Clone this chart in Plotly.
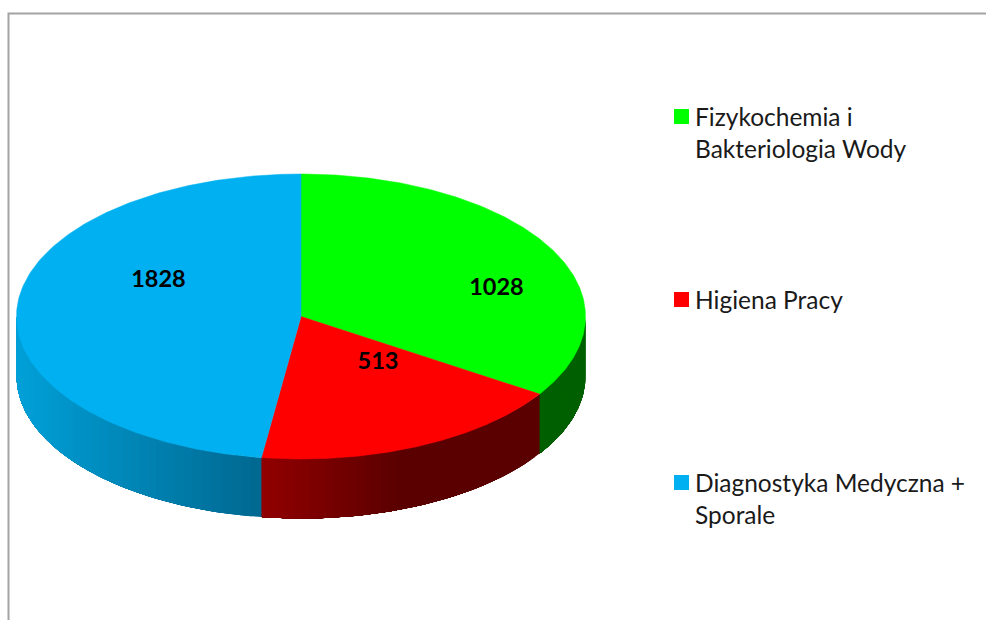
import numpy as np
import plotly.graph_objects as go

categories = ["Fizykochemia i<br>Bakteriologia Wody", "Higiena Pracy", "Diagnostyka Medyczna +<br>Sporale"]
values = [1028, 513, 1828]
# Sweep of each slice as it appears on the tilted disc (degrees, clockwise from the top)
slice_degrees = [123, 65, 172]
colors = ["#00FF00", "#FF0000", "#00B0F0"]

# Side-wall shading: colour at the left and right ends of each slice's visible wall
side_left = [(0, 96, 0), (146, 0, 0), (0, 160, 216)]
side_right = [(0, 96, 0), (90, 0, 0), (0, 104, 144)]

W, H = 986, 620
CX, CY, RX, RY, DEPTH = 301, 316.5, 284.5, 142.5, 59.5
FONT = "Lato"

label_pos = [(496.5, 289), (378, 363), (158.5, 281)]
legend_pos = [(681.5, 116.5), (681.5, 299.5), (681.5, 482.5)]
LINE_GAP = 32


def pt(a):
    r = np.radians(a)
    return CX + RX * np.sin(r), CY - RY * np.cos(r)


fig = go.Figure()
edges = np.concatenate([[0], np.cumsum(slice_degrees)])

# side wall: painted band by band, each band covering the rest of its slice, so no seams show
for i in range(len(values)):
    a0, a1 = max(edges[i], 90), min(edges[i + 1], 270)
    if a1 <= a0:
        continue
    steps = np.linspace(a0, a1, 41)
    xs_all = pt(steps)[0]
    xl, xr = xs_all.min(), xs_all.max()
    for s0, s1 in zip(steps[:-1], steps[1:]):
        arc = np.linspace(s0, a1, 60)
        x, y = pt(arc)
        px = np.concatenate([x, x[::-1], x[:1]])
        py = np.concatenate([y, y[::-1] + DEPTH, y[:1]])
        t = ((pt(s0)[0] + pt(s1)[0]) / 2 - xl) / max(xr - xl, 1)
        if i == 1:
            t = min(t * 2.0, 1)
        c = [round(side_left[i][k] + (side_right[i][k] - side_left[i][k]) * t) for k in range(3)]
        col = f"rgb({c[0]},{c[1]},{c[2]})"
        fig.add_trace(go.Scatter(x=px, y=py, mode="lines", fill="toself", fillcolor=col,
                                 line=dict(width=0), hoverinfo="skip", showlegend=False))

# top face
for i in range(len(values)):
    arc = np.linspace(edges[i], edges[i + 1], 181)
    x, y = pt(arc)
    fig.add_trace(go.Scatter(x=np.concatenate([[CX], x, [CX]]), y=np.concatenate([[CY], y, [CY]]),
                             mode="lines", fill="toself", fillcolor=colors[i],
                             line=dict(color=colors[i], width=0.5),
                             name=categories[i].replace("<br>", " "), text=str(values[i]),
                             hoverinfo="name+text", showlegend=False))

# value labels
fig.add_trace(go.Scatter(x=[p[0] for p in label_pos], y=[p[1] for p in label_pos], mode="text",
                         text=[str(v) for v in values], textposition="middle center",
                         textfont=dict(family=FONT, size=23.5, color="black", weight="bold"),
                         hoverinfo="skip", showlegend=False))

# legend keys
fig.add_trace(go.Scatter(x=[p[0] for p in legend_pos], y=[p[1] for p in legend_pos], mode="markers",
                         marker=dict(symbol="square", size=15, color=colors, line=dict(width=0)),
                         hoverinfo="skip", showlegend=False))

# legend text
for cat, (lx, ly) in zip(categories, legend_pos):
    for j, line in enumerate(cat.split("<br>")):
        fig.add_annotation(x=696, y=ly + j * LINE_GAP, text=line, showarrow=False, xanchor="left",
                           yanchor="middle", xshift=-3, font=dict(family=FONT, size=24.5, color="#1a1a1a"))

fig.add_shape(type="path", path=f"M 8.5 {H} L 8.5 13.5 L {W} 13.5", xref="x", yref="y",
              line=dict(color="#a3a3a3", width=2))

fig.update_xaxes(range=[0, W], visible=False, fixedrange=True)
fig.update_yaxes(range=[H, 0], visible=False, fixedrange=True)
fig.update_layout(width=W, height=H, margin=dict(l=0, r=0, t=0, b=0), paper_bgcolor="white",
                  plot_bgcolor="white", showlegend=False)
fig.write_html("out.html", config={"displayModeBar": False},
               post_script="document.body.style.margin='0';document.body.style.overflow='hidden';")
